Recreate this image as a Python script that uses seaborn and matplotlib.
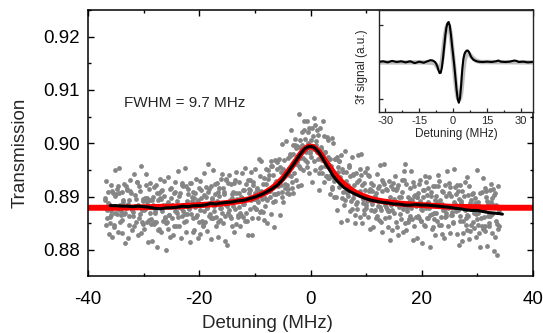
import numpy as np
import matplotlib
matplotlib.use("Agg")
import matplotlib.pyplot as plt
from matplotlib.ticker import MultipleLocator, FormatStrFormatter
import seaborn as sns

# transmission scan, one row per 1 MHz strip
scatter_x = [
    -36.94, -36.81, -36.69, -36.56, -36.44, -36.31, -36.19, -36.06,
    -35.94, -35.81, -35.69, -35.56, -35.44, -35.31, -35.19, -35.06,
    -34.94, -34.81, -34.69, -34.56, -34.44, -34.31, -34.19, -34.06,
    -33.94, -33.81, -33.69, -33.56, -33.44, -33.31, -33.19, -33.06,
    -32.94, -32.81, -32.69, -32.56, -32.44, -32.31, -32.19, -32.06,
    -31.94, -31.81, -31.69, -31.56, -31.44, -31.31, -31.19, -31.06,
    -30.94, -30.81, -30.69, -30.56, -30.44, -30.31, -30.19, -30.06,
    -29.94, -29.81, -29.69, -29.56, -29.44, -29.31, -29.19, -29.06,
    -28.94, -28.81, -28.69, -28.56, -28.44, -28.31, -28.19, -28.06,
    -27.94, -27.81, -27.69, -27.56, -27.44, -27.31, -27.19, -27.06,
    -26.94, -26.81, -26.69, -26.56, -26.44, -26.31, -26.19, -26.06,
    -25.94, -25.81, -25.69, -25.56, -25.44, -25.31, -25.19, -25.06,
    -24.94, -24.81, -24.69, -24.56, -24.44, -24.31, -24.19, -24.06,
    -23.94, -23.81, -23.69, -23.56, -23.44, -23.31, -23.19, -23.06,
    -22.94, -22.81, -22.69, -22.56, -22.44, -22.31, -22.19, -22.06,
    -21.94, -21.81, -21.69, -21.56, -21.44, -21.31, -21.19, -21.06,
    -20.94, -20.81, -20.69, -20.56, -20.44, -20.31, -20.19, -20.06,
    -19.94, -19.81, -19.69, -19.56, -19.44, -19.31, -19.19, -19.06,
    -18.94, -18.81, -18.69, -18.56, -18.44, -18.31, -18.19, -18.06,
    -17.94, -17.81, -17.69, -17.56, -17.44, -17.31, -17.19, -17.06,
    -16.94, -16.81, -16.69, -16.56, -16.44, -16.31, -16.19, -16.06,
    -15.94, -15.81, -15.69, -15.56, -15.44, -15.31, -15.19, -15.06,
    -14.94, -14.81, -14.69, -14.56, -14.44, -14.31, -14.19, -14.06,
    -13.94, -13.81, -13.69, -13.56, -13.44, -13.31, -13.19, -13.06,
    -12.94, -12.81, -12.69, -12.56, -12.44, -12.31, -12.19, -12.06,
    -11.94, -11.81, -11.69, -11.56, -11.44, -11.31, -11.19, -11.06,
    -10.94, -10.81, -10.69, -10.56, -10.44, -10.31, -10.19, -10.06,
    -9.94, -9.81, -9.69, -9.56, -9.44, -9.31, -9.19, -9.06,
    -8.94, -8.81, -8.69, -8.56, -8.44, -8.31, -8.19, -8.06,
    -7.94, -7.81, -7.69, -7.56, -7.44, -7.31, -7.19, -7.06,
    -6.94, -6.81, -6.69, -6.56, -6.44, -6.31, -6.19, -6.06,
    -5.94, -5.81, -5.69, -5.56, -5.44, -5.31, -5.19, -5.06,
    -4.94, -4.81, -4.69, -4.56, -4.44, -4.31, -4.19, -4.06,
    -3.94, -3.81, -3.69, -3.56, -3.44, -3.31, -3.19, -3.06,
    -2.94, -2.81, -2.69, -2.56, -2.44, -2.31, -2.19, -2.06,
    -1.94, -1.81, -1.69, -1.56, -1.44, -1.31, -1.19, -1.06,
    -0.94, -0.81, -0.69, -0.56, -0.44, -0.31, -0.19, -0.06,
    0.06, 0.19, 0.31, 0.44, 0.56, 0.69, 0.81, 0.94,
    1.06, 1.19, 1.31, 1.44, 1.56, 1.69, 1.81, 1.94,
    2.06, 2.19, 2.31, 2.44, 2.56, 2.69, 2.81, 2.94,
    3.06, 3.19, 3.31, 3.44, 3.56, 3.69, 3.81, 3.94,
    4.06, 4.19, 4.31, 4.44, 4.56, 4.69, 4.81, 4.94,
    5.06, 5.19, 5.31, 5.44, 5.56, 5.69, 5.81, 5.94,
    6.06, 6.19, 6.31, 6.44, 6.56, 6.69, 6.81, 6.94,
    7.06, 7.19, 7.31, 7.44, 7.56, 7.69, 7.81, 7.94,
    8.06, 8.19, 8.31, 8.44, 8.56, 8.69, 8.81, 8.94,
    9.06, 9.19, 9.31, 9.44, 9.56, 9.69, 9.81, 9.94,
    10.06, 10.19, 10.31, 10.44, 10.56, 10.69, 10.81, 10.94,
    11.06, 11.19, 11.31, 11.44, 11.56, 11.69, 11.81, 11.94,
    12.06, 12.19, 12.31, 12.44, 12.56, 12.69, 12.81, 12.94,
    13.06, 13.19, 13.31, 13.44, 13.56, 13.69, 13.81, 13.94,
    14.06, 14.19, 14.31, 14.44, 14.56, 14.69, 14.81, 14.94,
    15.06, 15.19, 15.31, 15.44, 15.56, 15.69, 15.81, 15.94,
    16.06, 16.19, 16.31, 16.44, 16.56, 16.69, 16.81, 16.94,
    17.06, 17.19, 17.31, 17.44, 17.56, 17.69, 17.81, 17.94,
    18.06, 18.19, 18.31, 18.44, 18.56, 18.69, 18.81, 18.94,
    19.06, 19.19, 19.31, 19.44, 19.56, 19.69, 19.81, 19.94,
    20.06, 20.19, 20.31, 20.44, 20.56, 20.69, 20.81, 20.94,
    21.06, 21.19, 21.31, 21.44, 21.56, 21.69, 21.81, 21.94,
    22.06, 22.19, 22.31, 22.44, 22.56, 22.69, 22.81, 22.94,
    23.06, 23.19, 23.31, 23.44, 23.56, 23.69, 23.81, 23.94,
    24.06, 24.19, 24.31, 24.44, 24.56, 24.69, 24.81, 24.94,
    25.06, 25.19, 25.31, 25.44, 25.56, 25.69, 25.81, 25.94,
    26.06, 26.19, 26.31, 26.44, 26.56, 26.69, 26.81, 26.94,
    27.06, 27.19, 27.31, 27.44, 27.56, 27.69, 27.81, 27.94,
    28.06, 28.19, 28.31, 28.44, 28.56, 28.69, 28.81, 28.94,
    29.06, 29.19, 29.31, 29.44, 29.56, 29.69, 29.81, 29.94,
    30.06, 30.19, 30.31, 30.44, 30.56, 30.69, 30.81, 30.94,
    31.06, 31.19, 31.31, 31.44, 31.56, 31.69, 31.81, 31.94,
    32.06, 32.19, 32.31, 32.44, 32.56, 32.69, 32.81, 32.94,
    33.06, 33.19, 33.31, 33.44, 33.56, 33.69, 33.81, 33.94,
]
scatter_y = [
    .8894, .8847, .8930, .8874, .8909, .8830, .8887, .8862,
    .8865, .8922, .8824, .8907, .8881, .8846, .8949, .8870,
    .8904, .8868, .8834, .8920, .8953, .8852, .8884, .8873,
    .8832, .8908, .8890, .8867, .8924, .8813, .8878, .8913,
    .8915, .8822, .8893, .8864, .8932, .8880, .8906, .8837,
    .8871, .8943, .8845, .8883, .8853, .8895, .8927, .8828,
    .8884, .8859, .8911, .8957, .8832, .8875, .8895, .8848,
    .8839, .8898, .8877, .8943, .8853, .8889, .8814, .8914,
    .8925, .8870, .8848, .8894, .8816, .8900, .8918, .8853,
    .8873, .8922, .8853, .8806, .8894, .8907, .8840, .8933,
    .8895, .8834, .8913, .8854, .8884, .8930, .8859, .8800,
    .8851, .8886, .8937, .8839, .8866, .8915, .8824, .8898,
    .8860, .8885, .8828, .8907, .8872, .8928, .8845, .8892,
    .8869, .8948, .8845, .8880, .8906, .8823, .8921, .8864,
    .8873, .8884, .8852, .8953, .8920, .8834, .8868, .8904,
    .8914, .8879, .8814, .8925, .8868, .8891, .8909, .8833,
    .8838, .8907, .8881, .8933, .8865, .8894, .8823, .8916,
    .8830, .8929, .8897, .8855, .8885, .8847, .8945, .8873,
    .8852, .8899, .8879, .8836, .8961, .8915, .8863, .8888,
    .8920, .8820, .8895, .8859, .8949, .8883, .8904, .8845,
    .8861, .8926, .8908, .8824, .8902, .8856, .8878, .8933,
    .8943, .8850, .8917, .8904, .8816, .8863, .8932, .8883,
    .8810, .8869, .8940, .8894, .8864, .8923, .8844, .8905,
    .8908, .8834, .8925, .8876, .8849, .8947, .8896, .8861,
    .8880, .8927, .8844, .8900, .8865, .8944, .8887, .8912,
    .8912, .8855, .8953, .8870, .8896, .8931, .8828, .8907,
    .8876, .8912, .8946, .8860, .8827, .8928, .8896, .8907,
    .8952, .8876, .8894, .8917, .8860, .8971, .8906, .8871,
    .8873, .8966, .8895, .8924, .8856, .8908, .8882, .8951,
    .8923, .8851, .8949, .8911, .8941, .8899, .8867, .8966,
    .8916, .8941, .8889, .8843, .8968, .8925, .8905, .8952,
    .8965, .8907, .8930, .8865, .8956, .8922, .8998, .8899,
    .8889, .8945, .8969, .8924, .9004, .8922, .8906, .8972,
    .8953, .8905, .8976, .9025, .8939, .8928, .8997, .8906,
    .8945, .9008, .8931, .8992, .8964, .8920, .8993, .9054,
    .9006, .8972, .8922, .9022, .8997, .8949, .9041, .8968,
    .9008, .8984, .9042, .8964, .9000, .8945, .9029, .8982,
    .9006, .8927, .9029, .8993, .8966, .9048, .8949, .9005,
    .8996, .8984, .9015, .8913, .8944, .9028, .8993, .8956,
    .8945, .8978, .9041, .8928, .8983, .8958, .8938, .9012,
    .9006, .8935, .8959, .8905, .8971, .8940, .9009, .8915,
    .9000, .8900, .8930, .8970, .8938, .8975, .8875, .8946,
    .8966, .8918, .8937, .8978, .8852, .8897, .8947, .8921,
    .8885, .8985, .8910, .8946, .8856, .8922, .8901, .8960,
    .8938, .8873, .8891, .8975, .8897, .8943, .8921, .8866,
    .8851, .8944, .8877, .8890, .8978, .8931, .8862, .8911,
    .8980, .8921, .8850, .8896, .8926, .8867, .8946, .8885,
    .8879, .8953, .8862, .8911, .8938, .8840, .8891, .8926,
    .8887, .8922, .8843, .8900, .8875, .8907, .8860, .8943,
    .8917, .8891, .8856, .8959, .8880, .8875, .8932, .8834,
    .8928, .8961, .8860, .8892, .8881, .8912, .8876, .8842,
    .8873, .8930, .8819, .8884, .8919, .8838, .8914, .8896,
    .8870, .8938, .8886, .8912, .8843, .8921, .8828, .8899,
    .8888, .8858, .8900, .8932, .8833, .8876, .8948, .8850,
    .8962, .8837, .8880, .8900, .8853, .8889, .8864, .8916,
    .8948, .8858, .8894, .8819, .8919, .8844, .8903, .8882,
    .8900, .8822, .8906, .8924, .8859, .8931, .8876, .8854,
    .8812, .8900, .8913, .8846, .8939, .8879, .8928, .8859,
    .8860, .8890, .8936, .8865, .8806, .8901, .8840, .8919,
    .8843, .8870, .8919, .8828, .8902, .8855, .8890, .8941,
    .8930, .8847, .8894, .8862, .8887, .8830, .8909, .8874,
    .8823, .8921, .8864, .8869, .8948, .8845, .8880, .8906,
    .8832, .8866, .8902, .8871, .8882, .8850, .8951, .8918,
    .8887, .8905, .8829, .8910, .8875, .8810, .8921, .8864,
    .8888, .8817, .8910, .8832, .8901, .8875, .8927, .8859,
    .8838, .8936, .8864, .8821, .8920, .8888, .8846, .8876,
    .8904, .8852, .8877, .8841, .8888, .8868, .8825, .8950,
    .8869, .8890, .8831, .8906, .8806, .8881, .8845, .8935,
    .8840, .8862, .8917, .8845, .8910, .8892, .8808, .8886,
    .8844, .8913, .8864, .8924, .8831, .8898, .8885, .8797,
    .8903, .8824, .8885, .8790, .8849, .8920, .8874, .8844,
]

# more points of the same scan, filling the core of the cloud
core_x = [
    -36.87, -36.62, -36.37, -36.12, -35.87, -35.62, -35.37, -35.12,
    -34.87, -34.62, -34.37, -34.12, -33.87, -33.62, -33.37, -33.12,
    -32.87, -32.62, -32.37, -32.12, -31.87, -31.62, -31.37, -31.12,
    -30.87, -30.62, -30.37, -30.12, -29.87, -29.62, -29.37, -29.12,
    -28.87, -28.62, -28.37, -28.12, -27.87, -27.62, -27.37, -27.12,
    -26.87, -26.62, -26.37, -26.12, -25.87, -25.62, -25.37, -25.12,
    -24.87, -24.62, -24.37, -24.12, -23.87, -23.62, -23.37, -23.12,
    -22.87, -22.62, -22.37, -22.12, -21.87, -21.62, -21.37, -21.12,
    -20.87, -20.62, -20.37, -20.12, -19.87, -19.62, -19.37, -19.12,
    -18.87, -18.62, -18.37, -18.12, -17.87, -17.62, -17.37, -17.12,
    -16.87, -16.62, -16.37, -16.12, -15.87, -15.62, -15.37, -15.12,
    -14.87, -14.62, -14.37, -14.12, -13.87, -13.62, -13.37, -13.12,
    -12.87, -12.62, -12.37, -12.12, -11.87, -11.62, -11.37, -11.12,
    -10.87, -10.62, -10.37, -10.12, -9.87, -9.62, -9.37, -9.12,
    -8.87, -8.62, -8.37, -8.12, -7.87, -7.62, -7.37, -7.12,
    -6.87, -6.62, -6.37, -6.12, -5.87, -5.62, -5.37, -5.12,
    -4.87, -4.62, -4.37, -4.12, -3.87, -3.62, -3.37, -3.12,
    -2.87, -2.62, -2.37, -2.12, -1.87, -1.62, -1.37, -1.12,
    -0.87, -0.62, -0.37, -0.12, 0.13, 0.38, 0.63, 0.88,
    1.13, 1.38, 1.63, 1.88, 2.13, 2.38, 2.63, 2.88,
    3.13, 3.38, 3.63, 3.88, 4.13, 4.38, 4.63, 4.88,
    5.13, 5.38, 5.63, 5.88, 6.13, 6.38, 6.63, 6.88,
    7.13, 7.38, 7.63, 7.88, 8.13, 8.38, 8.63, 8.88,
    9.13, 9.38, 9.63, 9.88, 10.13, 10.38, 10.63, 10.88,
    11.13, 11.38, 11.63, 11.88, 12.13, 12.38, 12.63, 12.88,
    13.13, 13.38, 13.63, 13.88, 14.13, 14.38, 14.63, 14.88,
    15.13, 15.38, 15.63, 15.88, 16.13, 16.38, 16.63, 16.88,
    17.13, 17.38, 17.63, 17.88, 18.13, 18.38, 18.63, 18.88,
    19.13, 19.38, 19.63, 19.88, 20.13, 20.38, 20.63, 20.88,
    21.13, 21.38, 21.63, 21.88, 22.13, 22.38, 22.63, 22.88,
    23.13, 23.38, 23.63, 23.88, 24.13, 24.38, 24.63, 24.88,
    25.13, 25.38, 25.63, 25.88, 26.13, 26.38, 26.63, 26.88,
    27.13, 27.38, 27.63, 27.88, 28.13, 28.38, 28.63, 28.88,
    29.13, 29.38, 29.63, 29.88, 30.13, 30.38, 30.63, 30.88,
    31.13, 31.38, 31.63, 31.88, 32.13, 32.38, 32.63, 32.88,
    33.13, 33.38, 33.63, 33.88,
]
core_y = [
    .8897, .8860, .8888, .8851, .8873, .8910, .8842, .8901,
    .8915, .8877, .8906, .8865, .8856, .8893, .8869, .8919,
    .8886, .8847, .8911, .8874, .8863, .8903, .8880, .8927,
    .8919, .8867, .8853, .8891, .8874, .8922, .8897, .8856,
    .8894, .8857, .8885, .8848, .8869, .8906, .8838, .8897,
    .8911, .8873, .8902, .8861, .8853, .8890, .8866, .8916,
    .8884, .8845, .8909, .8872, .8862, .8902, .8879, .8926,
    .8920, .8868, .8854, .8892, .8877, .8925, .8900, .8859,
    .8898, .8861, .8889, .8852, .8875, .8912, .8844, .8903,
    .8918, .8880, .8909, .8868, .8860, .8897, .8873, .8923,
    .8891, .8852, .8916, .8879, .8869, .8909, .8886, .8933,
    .8926, .8874, .8860, .8898, .8883, .8931, .8906, .8865,
    .8907, .8870, .8898, .8861, .8886, .8923, .8855, .8914,
    .8931, .8893, .8922, .8881, .8876, .8913, .8889, .8939,
    .8910, .8871, .8935, .8898, .8893, .8933, .8910, .8957,
    .8957, .8905, .8891, .8929, .8919, .8970, .8947, .8909,
    .8951, .8917, .8948, .8914, .8940, .8980, .8916, .8979,
    .8996, .8962, .8995, .8958, .8953, .8992, .8972, .9024,
    .8993, .8956, .9022, .8986, .8975, .9014, .8989, .9034,
    .9025, .8971, .8953, .8989, .8969, .9013, .8984, .8939,
    .8975, .8934, .8958, .8918, .8936, .8970, .8899, .8955,
    .8966, .8925, .8952, .8908, .8893, .8930, .8906, .8956,
    .8916, .8877, .8941, .8904, .8887, .8927, .8904, .8951,
    .8940, .8888, .8874, .8912, .8892, .8940, .8915, .8874,
    .8910, .8873, .8901, .8864, .8883, .8920, .8852, .8911,
    .8923, .8885, .8914, .8873, .8862, .8899, .8875, .8925,
    .8892, .8853, .8917, .8880, .8868, .8908, .8885, .8932,
    .8924, .8872, .8858, .8896, .8879, .8927, .8902, .8861,
    .8900, .8863, .8891, .8854, .8875, .8912, .8844, .8903,
    .8917, .8879, .8908, .8867, .8857, .8894, .8870, .8920,
    .8886, .8847, .8911, .8874, .8862, .8902, .8879, .8926,
    .8918, .8866, .8852, .8890, .8873, .8921, .8896, .8855,
    .8892, .8855, .8883, .8846, .8866, .8903, .8835, .8894,
    .8907, .8869, .8898, .8857, .8846, .8883, .8859, .8909,
    .8875, .8836, .8900, .8863, .8850, .8890, .8867, .8914,
    .8906, .8854, .8840, .8878,
]

# Lorentzian fit (red)
red_x = [-40, -35, -30, -25, -20, -17, -15, -13, -11, -10, -9, -8, -7, -6, -5,
         -4.5, -4, -3.5, -3, -2.5, -2, -1.5, -1, -0.5, 0, 0.5, 1, 1.5, 2, 2.5, 3, 3.5, 4, 4.5,
         5, 6, 7, 8, 9, 10, 11, 13, 15, 17, 20, 25, 30, 35, 40]
red_y = [.8879, .8879, .8880, .8881, .8884, .8886, .8888, .8891, .8895, .8899, .8903, .8908, .8915, .8923, .8934,
         .8940, .8947, .8954, .8962, .8969, .8977, .8984, .8989, .8993, .8994, .8993, .8989, .8984, .8977, .8969, .8962, .8954, .8947, .8940,
         .8934, .8923, .8915, .8908, .8903, .8899, .8895, .8891, .8888, .8886, .8884, .8881, .8880, .8879, .8879]

# smoothed data (black)
black_x = [-36, -35, -34, -33, -32, -31, -30, -29, -28, -27, -26, -25, -24, -23, -22, -21,
           -20, -19, -18, -17, -16, -15, -14, -13, -12, -11, -10, -9, -8, -7, -6, -5,
           -4.5, -4, -3.5, -3, -2.5, -2, -1.5, -1, -0.5, 0, 0.5, 1, 1.5, 2, 2.5, 3, 3.5, 4, 4.5, 5,
           6, 7, 8, 9, 10, 11, 12, 13, 14, 15, 16, 17, 18, 19, 20, 21, 22, 23, 24, 25,
           26, 27, 28, 29, 30, 31, 32, 33, 34, 34.5]
black_y = [.8883, .8883, .8882, .8882, .8881, .8882, .8881, .8880, .8878, .8877, .8879, .8879, .8880, .8882, .8881, .8883,
           .8883, .8884, .8887, .8886, .8888, .8889, .8890, .8892, .8893, .8896, .8899, .8903, .8908, .8914, .8921, .8932,
           .8939, .8946, .8954, .8961, .8969, .8977, .8984, .8990, .8993, .8994, .8993, .8989, .8983, .8975, .8966, .8957, .8949, .8940, .8933, .8927,
           .8917, .8910, .8905, .8900, .8896, .8893, .8891, .8889, .8888, .8886, .8886, .8884, .8884, .8885, .8884, .8884, .8883, .8882, .8881, .8880,
           .8878, .8877, .8875, .8874, .8874, .8872, .8870, .8869, .8868, .8867]

# inset: 3f signal, measured (black) and fit (grey)
inset_x = [-33, -31, -29, -27, -25, -23, -21, -19, -17, -15, -13, -11, -10, -9,
           -8, -7.5, -7, -6.5, -6, -5.5, -5, -4.5, -4, -3.5, -3, -2.5, -2, -1.5, -1, -0.5,
           0, 0.5, 1, 1.5, 2, 2.5, 3, 3.5, 4, 4.5, 5, 5.5, 6, 6.5, 7, 7.5, 8,
           9, 10, 11, 13, 15, 17, 19, 20, 21, 23, 25, 27, 28, 29, 31, 33, 35]
inset_y = [0.0, 0.02, -0.01, 0.03, 0.0, 0.02, -0.01, 0.02, -0.03, 0.01, -0.02, 0.03, 0.05, 0.04,
           0.0, -0.05, -0.12, -0.22, -0.3, -0.29, -0.15, 0.1, 0.4, 0.7, 0.93, 1.05, 1.08, 0.98, 0.75, 0.45,
           0.18, -0.1, -0.42, -0.75, -1.0, -1.1, -0.98, -0.65, -0.22, 0.08, 0.22, 0.28, 0.31, 0.31, 0.27, 0.2, 0.13,
           0.06, 0.03, 0.01, 0.0, 0.01, 0.0, 0.02, 0.04, 0.01, 0.0, 0.01, 0.04, 0.03, 0.0, 0.01, -0.01, 0.0]
fit_x = [-35, -12, -9, -8, -7.5, -7, -6.5, -6, -5.5, -5, -4.5, -4, -3.5, -3, -2.5, -2, -1.5, -1, -0.5,
         0, 0.5, 1, 1.5, 2, 2.5, 3, 3.5, 4, 4.5, 5, 5.5, 6, 6.5, 7, 8, 9, 10, 12, 36]
fit_y = [-0.01, -0.01, -0.02, -0.04, -0.08, -0.13, -0.18, -0.2, -0.15, 0.0, 0.25, 0.52, 0.75, 0.92, 1.0, 1.0, 0.9, 0.7, 0.42,
         0.12, -0.18, -0.5, -0.78, -0.95, -1.02, -0.98, -0.85, -0.55, -0.22, 0.02, 0.15, 0.22, 0.24, 0.22, 0.15, 0.09, 0.04, 0.0, -0.01]

sns.set_style("ticks")
plt.rcParams['font.family'] = ['Liberation Sans', 'DejaVu Sans']
plt.rcParams['axes.unicode_minus'] = False

fig = plt.figure(figsize=(5.43, 3.33), dpi=100)
ax = fig.add_axes([88/543, 57/333, 445/543, 266/333])

sns.scatterplot(x=scatter_x, y=scatter_y, ax=ax, color='#858585', s=12, linewidth=0, legend=False, zorder=1)
sns.scatterplot(x=core_x, y=core_y, ax=ax, color='#858585', s=12, linewidth=0, legend=False, zorder=1)
sns.lineplot(x=red_x, y=red_y, ax=ax, color='#ff0000', linewidth=4.3, sort=False, zorder=2)
sns.lineplot(x=black_x, y=black_y, ax=ax, color='black', linewidth=2.2, sort=False, zorder=3)

ax.set_xlim(-40, 40)
ax.set_ylim(0.8751, 0.925)
ax.xaxis.set_major_locator(MultipleLocator(20))
ax.xaxis.set_minor_locator(MultipleLocator(10))
ax.yaxis.set_major_locator(MultipleLocator(0.01))
ax.yaxis.set_minor_locator(MultipleLocator(0.005))
ax.yaxis.set_major_formatter(FormatStrFormatter('%.2f'))
ax.tick_params(which='both', direction='in', left=True, right=True, bottom=True, top=True,
               width=1, colors='black', labelsize=13.5)
ax.tick_params(which='major', length=4)
ax.tick_params(which='minor', length=2.5)
ax.tick_params(axis='x', pad=11)
ax.tick_params(axis='y', pad=6)
# top ticks are faint in the original
for t in ax.xaxis.get_major_ticks() + ax.xaxis.get_minor_ticks():
    t.tick1line.set_color('black')
    t.tick2line.set_color('#c8c8c8')
for sp in ax.spines.values():
    sp.set_linewidth(1.1)
    sp.set_color('black')

ax.set_xlabel('Detuning (MHz)', fontsize=13.5)
ax.set_ylabel('Transmission', fontsize=13.5)
ax.xaxis.set_label_coords((267 - 88) / 445, -47 / 266)
ax.xaxis.label.set_va('center')
ax.yaxis.set_label_coords((20 - 88) / 445, (276 - 153) / 266)
ax.yaxis.label.set_va('center')

ax.text(-33.6, 0.9075, 'FWHM = 9.7 MHz', fontsize=11, va='center', ha='left')

# inset
ax_in = fig.add_axes([379/543, (333 - 112)/333, 154/543, 102/333])
ax_in.set_facecolor('white')
sns.lineplot(x=fit_x, y=fit_y, ax=ax_in, color='#bdbdbd', linewidth=3.2, sort=False)
sns.lineplot(x=inset_x, y=inset_y, ax=ax_in, color='black', linewidth=1.5, sort=False)
ax_in.set_xlim(-32.8, 35.3)
ax_in.set_ylim(-1.35, 1.405)
ax_in.set_xticks([-30, -15, 0, 15, 30])
ax_in.xaxis.set_minor_locator(MultipleLocator(7.5))
ax_in.set_yticks([-1, 0, 1])
ax_in.set_yticklabels([])
ax_in.tick_params(which='both', direction='in', labelsize=8, pad=3, width=0.9)
ax_in.tick_params(which='major', length=3)
ax_in.tick_params(which='minor', length=1.8)
for sp in ax_in.spines.values():
    sp.set_linewidth(1.0)
ax_in.set_xlabel('Detuning (MHz)', fontsize=8.5, labelpad=1)
ax_in.set_ylabel('3f signal (a.u.)', fontsize=8.5)
ax_in.yaxis.set_label_coords((362 - 379) / 154, (112 - 66.7) / 102)
ax_in.yaxis.label.set_va('center')

fig.savefig('out.png', dpi=100)
